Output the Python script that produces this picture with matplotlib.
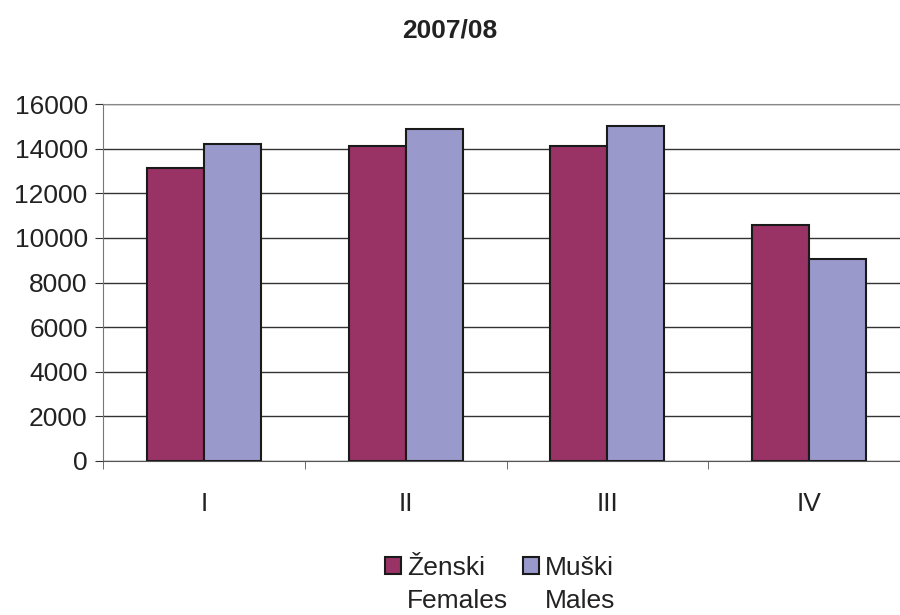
import numpy as np
import matplotlib
matplotlib.use("Agg")
import matplotlib.pyplot as plt

plt.rcParams["font.family"] = ["Liberation Sans", "DejaVu Sans"]

categories = ["I", "II", "III", "IV"]
females = [13150, 14130, 14100, 10580]
males = [14220, 14900, 15030, 9060]
labels_top = ["Ženski", "Muški"]
labels_bottom = ["Females", "Males"]

fig = plt.figure(figsize=(9, 6.15), dpi=100)
ax = fig.add_axes([103 / 900, 1 - 461 / 615, 807 / 900, 357 / 615])

x = np.arange(len(categories))
w = 0.283
ax.bar(x - w / 2, females, w, color="#993366", edgecolor="#1a1a1a", linewidth=1.5,
       label=labels_top[0], zorder=3)
ax.bar(x + w / 2, males, w, color="#9999cc", edgecolor="#1a1a1a", linewidth=1.5,
       label=labels_top[1], zorder=3)

ax.set_xlim(-0.5, 3.5)
ax.set_ylim(0, 16000)
ax.set_yticks(np.arange(0, 16001, 2000))
ax.yaxis.grid(True, color="#333333", linewidth=1, zorder=0)
ax.set_xticks(x)
ax.set_xticklabels(categories)
ax.set_xticks(np.arange(-0.5, 4, 1), minor=True)
ax.tick_params(axis="x", which="major", length=0, pad=22, labelsize=19, labelcolor="#222222")
ax.tick_params(axis="x", which="minor", length=6, color="#555555")
ax.tick_params(axis="y", length=6, color="#333333", labelsize=19, pad=5, labelcolor="#222222")

ax.spines["right"].set_visible(False)
ax.spines["top"].set_color("#888888")
ax.spines["left"].set_color("#777777")
ax.spines["bottom"].set_color("#555555")

fig.text(0.5, 1 - 31 / 615, "2007/08", ha="center", va="center", fontsize=19,
         fontweight="bold", color="#222222")

leg = fig.legend(loc="center left", bbox_to_anchor=(385 / 900, 1 - 568 / 615), ncol=2,
                 frameon=False, borderpad=0, borderaxespad=0, fontsize=19,
                 handlelength=0.6, handleheight=0.6, handletextpad=0.22,
                 columnspacing=1.45)
for t in leg.get_texts():
    t.set_color("#222222")

# second line of each legend label, placed under the first
fig.canvas.draw()
r = fig.canvas.get_renderer()
for t, sub in zip(leg.get_texts(), labels_bottom):
    bb = t.get_window_extent(r)
    fig.text(bb.x0 / 900, (bb.y0 - 33) / 615, sub, ha="left", va="bottom",
             fontsize=19, color="#222222")

fig.savefig("out.png", dpi=100)
